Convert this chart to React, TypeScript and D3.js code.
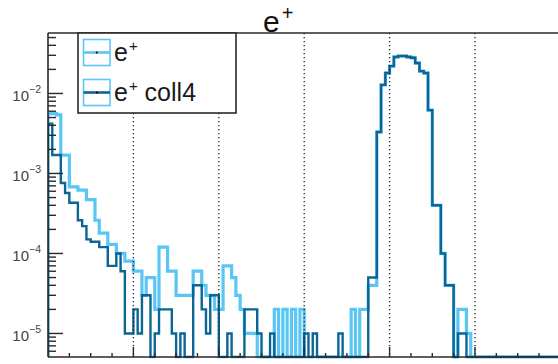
import React from "react";
import * as d3 from "d3";

// Histogram binning: 120 uniform bins across the frame, 20 bins per grid unit
const X_DOMAIN: [number, number] = [0, 6];
const BIN_WIDTH = 0.05;
// each entry carries this weight
const ENTRY_WEIGHT = 1e-5;
const Y_DOMAIN: [number, number] = [5.08e-6, 0.057];

// e+ : entries per bin
const positronCounts = [
  560, 560, 540, 170, 170, 68, 68, 62, 62, 47,
  47, 26, 18, 18, 13, 13, 10, 10, 8, 8,
  6, 6, 3, 5, 5, 2, 12, 12, 6, 6,
  3, 3, 3, 3, 6, 6, 4, 3, 3, 2,
  2, 7, 7, 5, 3, 2, 1, 1, 1, 0,
  0, 0, 0, 2, 0, 2, 0, 2, 0, 2,
  0, 0, 0, 0, 0, 0, 0, 0, 0, 0,
  0, 2, 0, 2, 2, 4, 4, 330, 1280, 1800,
  2200, 2860, 2940, 2940, 2860, 2790, 2400, 1900, 1800, 620,
  40, 40, 10, 4, 4, 0, 2, 2, 1, 0,
  0, 0, 0, 0, 0, 0, 0, 0, 0, 0,
  0, 0, 0, 0, 0, 0, 0, 0, 0, 0,
];

// e+ coll4 : entries per bin
const coll4Counts = [
  420, 170, 170, 76, 57, 43, 43, 26, 22, 15,
  14, 14, 12, 12, 7, 7, 10, 6, 1, 1,
  2, 1, 3, 3, 0, 1, 2, 2, 2, 1,
  0, 1, 0, 0, 4, 4, 2, 1, 3, 3,
  0, 0, 1, 0, 0, 0, 2, 2, 2, 1,
  0, 0, 1, 0, 0, 0, 0, 0, 0, 0,
  1, 0, 1, 0, 0, 0, 0, 0, 1, 0,
  0, 0, 0, 0, 0, 5, 5, 330, 1280, 1800,
  2200, 2860, 2940, 2940, 2860, 2790, 2400, 1900, 1800, 620,
  40, 40, 10, 4, 4, 0, 1, 1, 0, 0,
  0, 0, 0, 0, 0, 0, 0, 0, 0, 0,
  0, 0, 0, 0, 0, 0, 0, 0, 0, 0,
];

const gridValues = [1, 2, 3, 4, 5];
const decadeExponents = [-5, -4, -3, -2];
const titleText = { base: "e", sup: "+" };
const legendEntries = [
  { base: "e", sup: "+", rest: "", color: "#5ac6f4" },
  { base: "e", sup: "+", rest: " coll4", color: "#0b6595" },
];

const W = 558;
const H = 364;
const FRAME = { left: 48, top: 33, bottom: 357, right: 48 + 6 * 85.4 };
const FONT = "'Liberation Sans', Arial, Helvetica, sans-serif";
const LIGHT = "#5ac6f4";
const DARK = "#0b6595";

const x = d3.scaleLinear().domain(X_DOMAIN).range([FRAME.left, FRAME.right]);
const y = d3.scaleLog().domain(Y_DOMAIN).range([FRAME.bottom, FRAME.top]);

function stepPath(counts: number[]): string {
  const pts: [number, number][] = [[x(X_DOMAIN[0]), FRAME.bottom]];
  counts.forEach((c, i) => {
    const v = c * ENTRY_WEIGHT;
    const yy = c > 0 ? Math.min(y(v), FRAME.bottom) : FRAME.bottom;
    pts.push([x(i * BIN_WIDTH), yy], [x((i + 1) * BIN_WIDTH), yy]);
  });
  pts.push([x(counts.length * BIN_WIDTH), FRAME.bottom]);
  return d3.line()(pts) || "";
}

const minorYValues: number[] = [];
for (let e = -6; e <= -2; e++) {
  for (let k = 2; k <= 9; k++) {
    const v = k * Math.pow(10, e);
    if (v >= Y_DOMAIN[0] && v <= Y_DOMAIN[1]) minorYValues.push(v);
  }
}
const minorXValues = d3.range(0.25, 6, 0.25).filter((v) => Math.abs(v - Math.round(v)) > 1e-6);

export default function App() {
  return (
    <svg
      width={W}
      height={H}
      style={{ position: "absolute", left: 0, top: 0, background: "#fff" }}
      fontFamily={FONT}
    >
      <defs>
        <clipPath id="frameClip">
          <rect x={FRAME.left} y={FRAME.top} width={FRAME.right - FRAME.left} height={FRAME.bottom - FRAME.top + 1.5} />
        </clipPath>
      </defs>

      {/* histograms */}
      <g clipPath="url(#frameClip)" fill="none" strokeLinejoin="miter">
        <path d={stepPath(positronCounts)} stroke={LIGHT} strokeWidth={3.2} />
        <path d={stepPath(coll4Counts)} stroke={DARK} strokeWidth={2.4} />
      </g>

      {/* dotted vertical grid */}
      <g stroke="#222" strokeWidth={1.3} strokeDasharray="1.3 2.7">
        {gridValues.map((g) => (
          <line key={g} x1={x(g)} x2={x(g)} y1={FRAME.top} y2={FRAME.bottom} />
        ))}
      </g>

      {/* frame */}
      <g stroke="#2a2a2a" strokeWidth={1.6} fill="none">
        <line x1={FRAME.left} x2={W + 5} y1={FRAME.top} y2={FRAME.top} />
        <line x1={FRAME.left} x2={FRAME.left} y1={FRAME.top} y2={FRAME.bottom} />
        <line x1={FRAME.left} x2={W + 5} y1={FRAME.bottom} y2={FRAME.bottom} />
      </g>

      {/* y ticks */}
      <g stroke="#2a2a2a" strokeWidth={1.4}>
        {decadeExponents.map((e) => (
          <line key={e} x1={FRAME.left} x2={FRAME.left + 15} y1={y(Math.pow(10, e))} y2={y(Math.pow(10, e))} />
        ))}
        {minorYValues.map((v, i) => (
          <line key={i} x1={FRAME.left} x2={FRAME.left + 8} y1={y(v)} y2={y(v)} />
        ))}
      </g>

      {/* x ticks */}
      <g stroke="#2a2a2a" strokeWidth={1.4}>
        {gridValues.map((g) => (
          <line key={g} x1={x(g)} x2={x(g)} y1={FRAME.bottom} y2={FRAME.bottom - 10} />
        ))}
        {minorXValues.map((v, i) => (
          <line key={i} x1={x(v)} x2={x(v)} y1={FRAME.bottom} y2={FRAME.bottom - 4} />
        ))}
      </g>

      {/* y labels */}
      <g fill="#444" textAnchor="end">
        {decadeExponents.map((e) => (
          <text key={e} x={41} y={y(Math.pow(10, e)) + 7.5} fontSize={15}>
            10
            <tspan fontSize={10.5} dy={-8}>{"\u2212" + Math.abs(e)}</tspan>
          </text>
        ))}
      </g>

      {/* title */}
      <text x={263} y={31.5} fontSize={30} fill="#111">
        {titleText.base}
        <tspan fontSize={20} dx={2} dy={-11.5}>{titleText.sup}</tspan>
      </text>

      {/* legend */}
      <g>
        <rect x={78} y={FRAME.top} width={158} height={80} fill="#fff" stroke="#2a2a2a" strokeWidth={1.6} />
        {legendEntries.map((en, i) => {
          const top = 39.5 + i * 40;
          const cy = top + 13;
          return (
            <g key={i}>
              <rect x={83.5} y={top} width={26.5} height={26} fill="none" stroke={LIGHT} strokeWidth={1.6} />
              <line x1={83.5} x2={110} y1={cy} y2={cy} stroke={en.color} strokeWidth={2.6} />
              <circle cx={96.8} cy={cy} r={1.1} fill="#000" />
              <text x={114} y={60.5 + i * 40} fontSize={25} fill="#1a1a1a">
                {en.base}
                <tspan fontSize={15} dx={1} dy={-9.5}>{en.sup}</tspan>
                <tspan dy={9.5}>{en.rest}</tspan>
              </text>
            </g>
          );
        })}
      </g>
    </svg>
  );
}
